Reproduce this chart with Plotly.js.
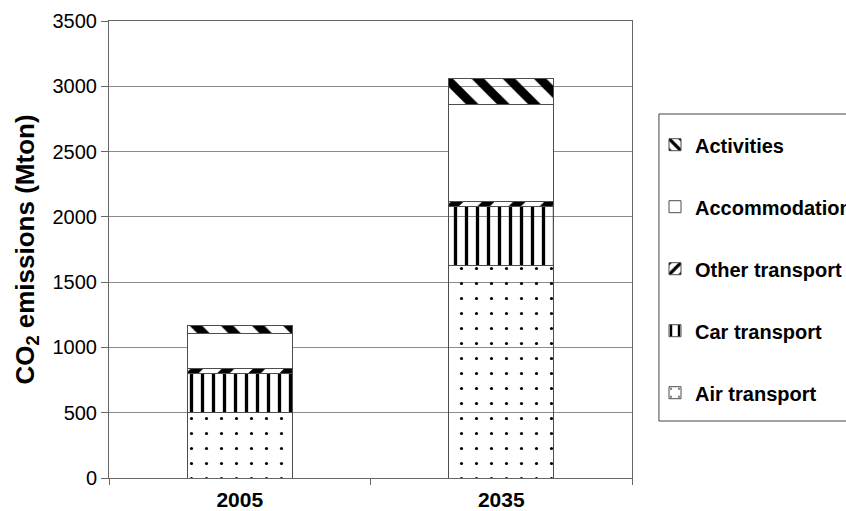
<!DOCTYPE html>
<html>
<head>
<meta charset="utf-8">
<script src="https://cdn.plot.ly/plotly-3.0.1.min.js"></script>
<style>
  html, body { margin: 0; padding: 0; background: #fff; }
  #chart { width: 846px; height: 511px; }
</style>
</head>
<body>
<div id="chart"></div>
<script>
// Tourism CO2 emissions by component (Mton)
const years = ['2005', '2035'];
const airTransport = [500, 1625];
const carTransport = [300, 455];
const otherTransport = [40, 40];
const accommodation = [270, 740];
const activities = [60, 200];

const seriesNames = ['Air transport', 'Car transport', 'Other transport', 'Accommodation', 'Activities'];
const seriesValues = [airTransport, carTransport, otherTransport, accommodation, activities];
// legend lists the top of the stack first
const seriesRanks = [5, 4, 3, 2, 1];
const seriesPatterns = [
  { shape: '.', size: 15, solidity: 0.035 },
  { shape: '|', size: 11, solidity: 0.3 },
  { shape: '/', size: 22, solidity: 0.4 },
  { shape: '', size: 8, solidity: 0.3 },
  { shape: '\\', size: 22, solidity: 0.4 }
];

const font = 'Liberation Sans, Arial, Helvetica, sans-serif';

const traces = seriesNames.map((name, i) => ({
  type: 'bar',
  name: name,
  x: years,
  y: seriesValues[i],
  legendgroup: 'g' + i,
  legendrank: seriesRanks[i],
  marker: {
    color: '#ffffff',
    line: { color: '#4d4d4d', width: 1 },
    pattern: Object.assign({ fgcolor: '#000000', fillmode: 'replace' }, seriesPatterns[i])
  },
  hoverinfo: 'name+y'
}));

const layout = {
  width: 846,
  height: 511,
  margin: { l: 109, r: 214, t: 21, b: 33, autoexpand: false },
  paper_bgcolor: '#ffffff',
  plot_bgcolor: '#ffffff',
  barmode: 'stack',
  bargap: 0.6,
  showlegend: true,
  legend: {
    x: 1.044, xanchor: 'left',
    y: 0.772, yanchor: 'top',
    traceorder: 'grouped',
    tracegroupgap: 33,
    borderwidth: 0,
    bgcolor: 'rgba(0,0,0,0)',
    font: { family: font, size: 20, color: '#000', weight: 'bold' }
  },
  xaxis: {
    type: 'category',
    tickson: 'boundaries',
    ticks: 'outside',
    ticklen: 6,
    tickcolor: '#666',
    showline: true,
    linecolor: '#666',
    linewidth: 1,
    mirror: true,
    ticklabelstandoff: 3,
    tickfont: { family: font, size: 21, color: '#000', weight: 'bold' }
  },
  yaxis: {
    range: [0, 3500],
    dtick: 500,
    ticks: 'outside',
    ticklen: 7,
    tickcolor: '#666',
    showline: true,
    linecolor: '#666',
    linewidth: 1,
    mirror: true,
    showgrid: true,
    gridcolor: '#8c8c8c',
    gridwidth: 1,
    zeroline: false,
    tickfont: { family: font, size: 20, color: '#000' },
    title: {
      text: 'CO<sub>2</sub> emissions (Mton)',
      font: { family: font, size: 26, color: '#000', weight: 'bold' },
      standoff: 10
    }
  },
  shapes: [{
    type: 'rect', xref: 'paper', yref: 'paper',
    x0: 1.0515, x1: 2, y0: 0.1247, y1: 0.7965,
    line: { color: '#444', width: 1 },
    fillcolor: 'rgba(0,0,0,0)'
  }]
};

Plotly.newPlot('chart', traces, layout, { displayModeBar: false, staticPlot: true });
</script>
</body>
</html>
